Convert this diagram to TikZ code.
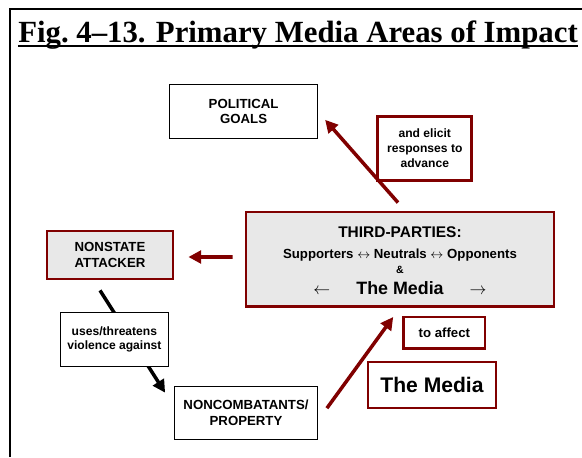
\documentclass[tikz,border=0pt]{standalone}
\usepackage{fontspec}
\setmainfont{Liberation Serif}
\setsansfont{Liberation Sans}
\usetikzlibrary{arrows.meta}
\definecolor{mediared}{RGB}{128,0,0}
\definecolor{mediagray}{RGB}{232,232,232}

\begin{document}
\begin{tikzpicture}[
  box/.style={rectangle, draw=black, line width=1pt, fill=white, align=center, inner sep=0pt,
              font=\sffamily\bfseries\fontsize{9.4}{11}\selectfont},
  redbox/.style={box, draw=mediared, line width=2pt},
  graybox/.style={redbox, fill=mediagray},
  small/.style={font=\sffamily\bfseries\fontsize{8.6}{10.5}\selectfont},
  arr/.style={-{Triangle[length=9pt, width=9pt]}, line width=2.5pt},
  redarr/.style={arr, color=mediared}
]
  \useasboundingbox (0,0) rectangle (14.55,11.425);
  % frame and title
  \draw[line width=1.4pt] (0.25,0) -- (0.25,11.2) -- (14.55,11.2);
  \node[anchor=base, inner sep=0pt, font=\bfseries\fontsize{21.9}{24}\selectfont] (title) at (7.45,10.35)
    {Fig.~4--13. Primary Media Areas of Impact};
  \draw[line width=1.3pt] ([yshift=-2.3pt]title.base west) -- ([yshift=-2.3pt]title.base east);

  \node[box, minimum width=3.7cm, minimum height=1.35cm]             (goals)    at (6.09,8.64) {POLITICAL\\GOALS};
  \node[redbox, small, minimum width=2.35cm, minimum height=1.6cm]   (elicit)   at (10.62,7.72) {and elicit\\responses to\\advance};
  \node[graybox, minimum width=7.7cm, minimum height=2.37cm]         (third)    at (10.0,4.94)
    {\rule{0pt}{9pt}{\fontsize{11}{11}\selectfont THIRD-PARTIES:}\\[4pt]
     Supporters $\leftrightarrow$ Neutrals $\leftrightarrow$ Opponents\\[0pt]
     {\fontsize{7.5}{8}\selectfont\&}\\[3.5pt]
     {\fontsize{12.7}{14}\selectfont $\leftarrow$\hspace{0.65cm}The Media\hspace{0.65cm}$\rightarrow$}};
  \node[graybox, minimum width=3.15cm, minimum height=1.2cm]         (attacker) at (2.75,5.05) {NONSTATE\\ATTACKER};
  \node[box, minimum width=3.57cm, minimum height=1.32cm]            (victims)  at (6.15,1.1) {NONCOMBATANTS/\\PROPERTY};
  \node[redbox, small, minimum width=2.03cm, minimum height=0.78cm, font=\sffamily\bfseries\fontsize{9.4}{11}\selectfont]
                                                                    (affect)   at (11.11,3.11) {to affect};
  \node[redbox, minimum width=3.2cm, minimum height=1.15cm, font=\sffamily\bfseries\fontsize{15}{17}\selectfont]
                                                                    (media)    at (10.8,1.8) {The Media};

  \draw[redarr] ([shift={(-0.05,0.2)}]third.north) -- ([shift={(0.17,-0.21)}]goals.east);
  \draw[redarr] ([shift={(-0.3,0.06)}]third.west) -- ([shift={(0.35,-0.05)}]attacker.east);
  \draw[arr] ([shift={(-0.25,-0.25)}]attacker.south) -- ([shift={(-0.22,-0.17)}]victims.north west);
  \draw[redarr] ([shift={(0.22,0.12)}]victims.east) -- ([shift={(-0.17,-0.22)}]third.south);

  \node[box, small, minimum width=2.7cm, minimum height=1.35cm] (uses) at (2.86,2.94) {uses/threatens\\violence against};
\end{tikzpicture}
\end{document}
